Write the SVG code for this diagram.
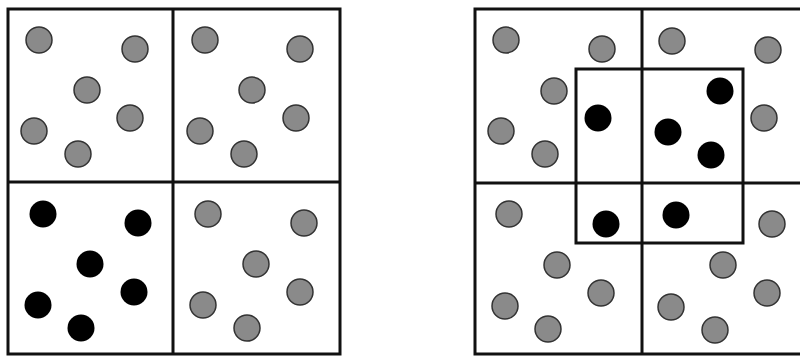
<svg xmlns="http://www.w3.org/2000/svg" width="800" height="356" viewBox="0 0 800 356">
<style>
.line{fill:none;stroke:#111;stroke-width:3}
.g{fill:#8a8a8a;stroke:#333;stroke-width:1.5}
.b{fill:#000}
</style>
<defs>
<circle id="gc" r="13" class="g"/>
</defs>
<rect width="800" height="356" fill="#fff"/>
<g id="left-grid">
<rect class="line" x="8" y="9" width="332" height="345"/>
<line class="line" x1="173" y1="9" x2="173" y2="354"/>
<line class="line" x1="8" y1="182" x2="340" y2="182"/>
</g>
<g id="left-tl">
<use href="#gc" x="39" y="40"/><use href="#gc" x="135" y="49"/><use href="#gc" x="87" y="90"/>
<use href="#gc" x="130" y="118"/><use href="#gc" x="34" y="131"/><use href="#gc" x="78" y="154"/>
</g>
<g id="left-tr">
<use href="#gc" x="205" y="40"/><use href="#gc" x="300" y="49"/><use href="#gc" x="252" y="90"/>
<use href="#gc" x="296" y="118"/><use href="#gc" x="200" y="131"/><use href="#gc" x="244" y="154"/>
</g>
<g id="left-bl">
<circle class="b" r="13.5" cx="43" cy="214"/><circle class="b" r="13.5" cx="138" cy="223"/><circle class="b" r="13.5" cx="90" cy="264"/>
<circle class="b" r="13.5" cx="134" cy="292"/><circle class="b" r="13.5" cx="38" cy="305"/><circle class="b" r="13.5" cx="81" cy="328"/>
</g>
<g id="left-br">
<use href="#gc" x="208" y="214"/><use href="#gc" x="304" y="223"/><use href="#gc" x="256" y="264"/>
<use href="#gc" x="300" y="292"/><use href="#gc" x="203" y="305"/><use href="#gc" x="247" y="328"/>
</g>
<g id="right-grid">
<rect class="line" x="475" y="9" width="340" height="345"/>
<line class="line" x1="642" y1="9" x2="642" y2="354"/>
<line class="line" x1="475" y1="183" x2="800" y2="183"/>
<rect class="line" x="576" y="69" width="167" height="174"/>
</g>
<g id="right-tl">
<use href="#gc" x="506" y="40"/><use href="#gc" x="602" y="49"/><use href="#gc" x="554" y="91"/>
<circle class="b" r="13.5" cx="598" cy="118"/><use href="#gc" x="501" y="131"/><use href="#gc" x="545" y="154"/>
</g>
<g id="right-tr">
<use href="#gc" x="672" y="41"/><use href="#gc" x="768" y="50"/><circle class="b" r="13.5" cx="720" cy="91"/>
<use href="#gc" x="764" y="118"/><circle class="b" r="13.5" cx="668" cy="132"/><circle class="b" r="13.5" cx="711" cy="155"/>
</g>
<g id="right-bl">
<use href="#gc" x="509" y="214"/><circle class="b" r="13.5" cx="606" cy="224"/><use href="#gc" x="557" y="265"/>
<use href="#gc" x="601" y="293"/><use href="#gc" x="505" y="306"/><use href="#gc" x="548" y="329"/>
</g>
<g id="right-br">
<circle class="b" r="13.5" cx="676" cy="215"/><use href="#gc" x="772" y="224"/><use href="#gc" x="723" y="265"/>
<use href="#gc" x="767" y="293"/><use href="#gc" x="671" y="307"/><use href="#gc" x="715" y="330"/>
</g>
</svg>
